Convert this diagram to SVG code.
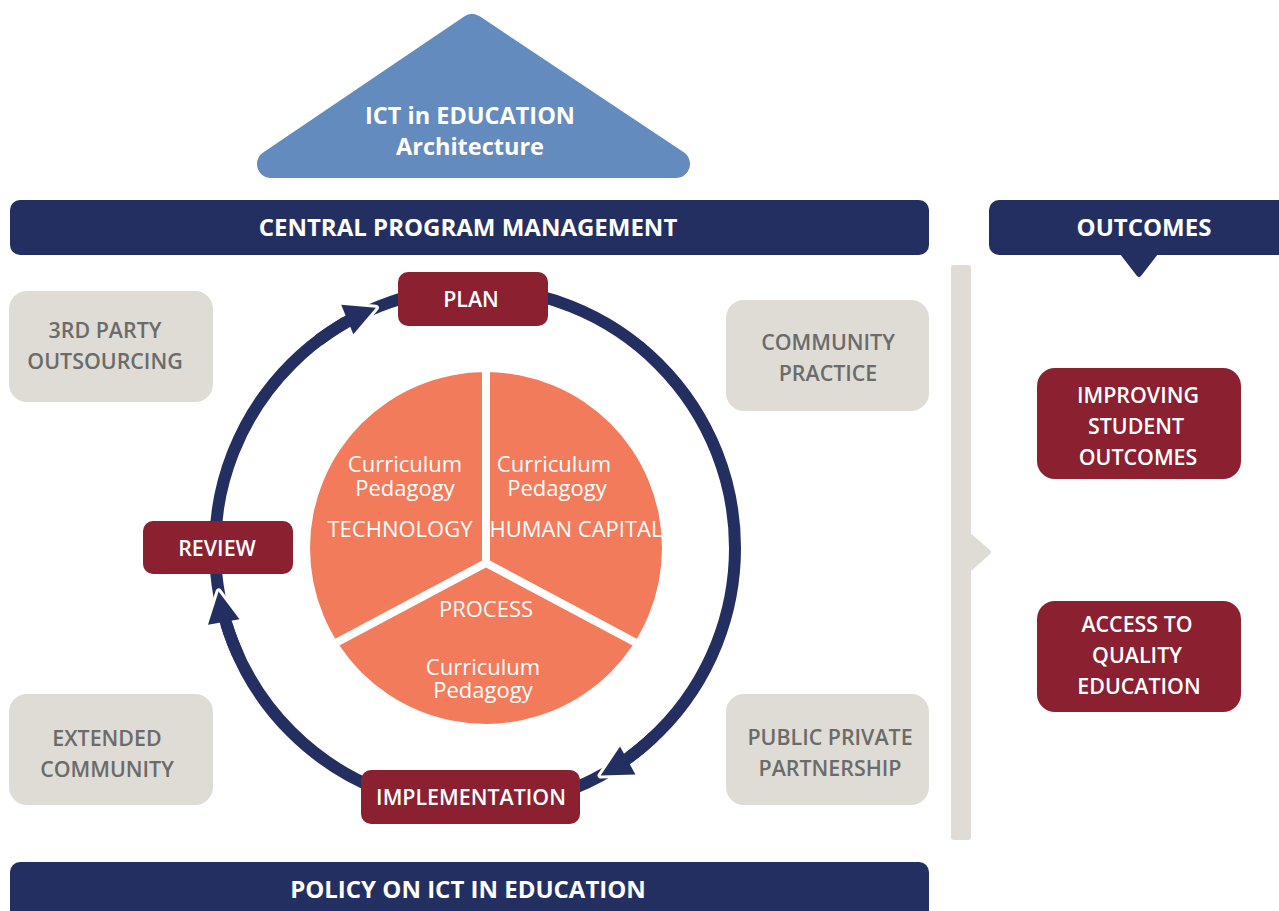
<svg xmlns="http://www.w3.org/2000/svg" width="1279" height="911" viewBox="0 0 1279 911">
<defs>
<style>
.navy{fill:#232F60}
.red{fill:#8B2030}
.gray{fill:#DFDCD5}
.t{font-family:"Open Sans","Liberation Sans",sans-serif;text-anchor:middle}
.wb{fill:#fff;font-weight:700;font-size:24px}
.ws{fill:#fff;font-weight:600;font-size:21.4px}
.gs{fill:#6B6B6B;font-weight:600;font-size:21.4px}
.pie{fill:#fff;font-weight:500;font-size:22px}
.ring{fill:none;stroke:#232F60;stroke-width:12}
.head{fill:#232F60;stroke:#fff;stroke-width:6;stroke-linejoin:round;paint-order:stroke}
</style>
<path id="ah" d="M0,0 L-31,-16 L-31,16 Z"/>
</defs>
<rect width="1279" height="911" fill="#fff"/>

<g id="architecture">
<polygon points="472,28 676,164 271,164" fill="#638BBE" stroke="#638BBE" stroke-width="28" stroke-linejoin="round"/>
<text class="t" x="470" y="124" fill="#fff" font-weight="700" font-size="23.5">ICT in EDUCATION</text>
<text class="t" x="470" y="155" fill="#fff" font-weight="700" font-size="23.5">Architecture</text>
</g>

<g id="central">
<rect class="navy" x="10" y="200" width="919" height="55" rx="10"/>
<text class="t wb" x="468" y="236">CENTRAL PROGRAM MANAGEMENT</text>
</g>

<g id="outcomes">
<rect class="navy" x="989" y="200" width="310" height="55" rx="10"/>
<path class="navy" d="M1120,254 L1158,254 L1141,276 Q1139,278 1137,276 Z"/>
<text class="t wb" x="1144" y="236">OUTCOMES</text>
</g>

<g id="divider">
<rect class="gray" x="951" y="265" width="20" height="575" rx="3"/>
<path class="gray" d="M970,533 L990,550 Q992,552 990,554 L970,572 Z"/>
</g>

<g id="connectors">
<circle class="ring" cx="475" cy="548" r="260"/>
<use href="#ah" class="head" transform="translate(375.9,307.7) rotate(-22.4)"/>
<path class="ring" d="M318.5,340.4 A260,260 0 0,1 357.0,316.3"/>
<use href="#ah" class="head" transform="translate(600.6,775.5) rotate(151.1)"/>
<path class="ring" d="M653.9,736.5 A260,260 0 0,1 618.5,764.8"/>
<use href="#ah" class="head" transform="translate(218.6,591.4) rotate(260.4)"/>
<path class="ring" d="M237.9,654.6 A260,260 0 0,1 223.0,611.8"/>
</g>

<g id="pie">
<circle cx="486" cy="548" r="176" fill="#F27B5C"/>
<g stroke="#fff" stroke-width="8" fill="none">
<line x1="486" y1="563" x2="486" y2="368"/>
<line x1="486" y1="563" x2="330" y2="646"/>
<line x1="486" y1="563" x2="642" y2="646"/>
</g>
<text class="t pie" x="405" y="472">Curriculum</text>
<text class="t pie" x="405" y="496">Pedagogy</text>
<text class="t pie" x="400" y="537">TECHNOLOGY</text>
<text class="t pie" x="554" y="472">Curriculum</text>
<text class="t pie" x="557" y="496">Pedagogy</text>
<text class="t pie" x="576" y="537">HUMAN CAPITAL</text>
<text class="t pie" x="486" y="617">PROCESS</text>
<text class="t pie" x="483" y="675">Curriculum</text>
<text class="t pie" x="483" y="698">Pedagogy</text>
</g>

<g id="plan">
<rect class="red" x="398" y="272" width="150" height="54" rx="10"/>
<text class="t ws" x="471" y="307">PLAN</text>
</g>
<g id="review">
<rect class="red" x="143" y="521" width="150" height="53" rx="10"/>
<text class="t ws" x="217" y="556">REVIEW</text>
</g>
<g id="implementation">
<rect class="red" x="361" y="770" width="219" height="54" rx="10"/>
<text class="t ws" x="471" y="805">IMPLEMENTATION</text>
</g>

<g id="outsourcing">
<rect class="gray" x="9" y="291" width="204" height="111" rx="18"/>
<text class="t gs" x="105" y="338">3RD PARTY</text>
<text class="t gs" x="105" y="369">OUTSOURCING</text>
</g>
<g id="community-practice">
<rect class="gray" x="726" y="300" width="203" height="111" rx="18"/>
<text class="t gs" x="828" y="350">COMMUNITY</text>
<text class="t gs" x="828" y="381">PRACTICE</text>
</g>
<g id="extended-community">
<rect class="gray" x="9" y="694" width="204" height="111" rx="18"/>
<text class="t gs" x="107" y="746">EXTENDED</text>
<text class="t gs" x="107" y="777">COMMUNITY</text>
</g>
<g id="ppp">
<rect class="gray" x="726" y="694" width="203" height="111" rx="18"/>
<text class="t gs" x="830" y="745">PUBLIC PRIVATE</text>
<text class="t gs" x="830" y="776">PARTNERSHIP</text>
</g>

<g id="improving">
<rect class="red" x="1037" y="368" width="204" height="111" rx="18"/>
<text class="t ws" x="1138" y="403">IMPROVING</text>
<text class="t ws" x="1136" y="434">STUDENT</text>
<text class="t ws" x="1138" y="465">OUTCOMES</text>
</g>
<g id="access">
<rect class="red" x="1037" y="601" width="204" height="111" rx="18"/>
<text class="t ws" x="1137" y="632">ACCESS TO</text>
<text class="t ws" x="1137" y="663">QUALITY</text>
<text class="t ws" x="1139" y="694">EDUCATION</text>
</g>

<g id="policy">
<rect class="navy" x="10" y="862" width="919" height="70" rx="10"/>
<text class="t wb" x="468" y="898">POLICY ON ICT IN EDUCATION</text>
</g>
</svg>
